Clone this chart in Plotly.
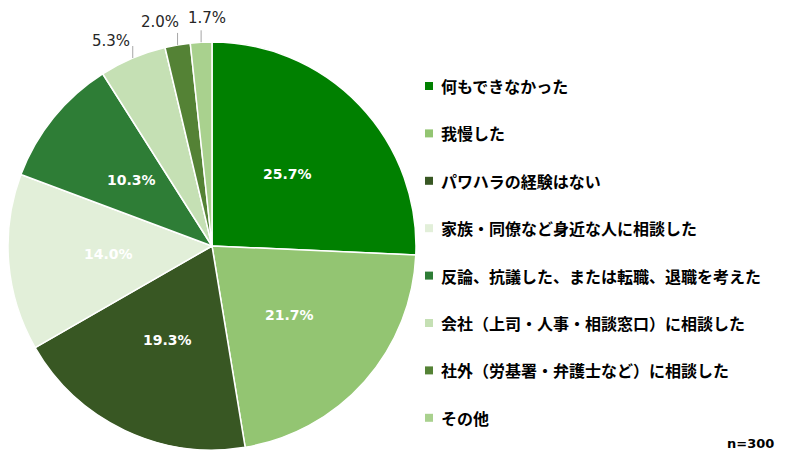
import math
import plotly.graph_objects as go

categories = [
    "何もできなかった",
    "我慢した",
    "パワハラの経験はない",
    "家族・同僚など身近な人に相談した",
    "反論、抗議した、または転職、退職を考えた",
    "会社（上司・人事・相談窓口）に相談した",
    "社外（労基署・弁護士など）に相談した",
    "その他",
]
values = [25.7, 21.7, 19.3, 14.0, 10.3, 5.3, 2.0, 1.7]
colors = ["#008000", "#93C572", "#385723", "#E2EFD9", "#2E7D36", "#C5E0B4", "#548235", "#A9D18E"]
outside = [False, False, False, False, False, True, True, True]
sample_note = "n=300"

W, H = 800, 465
cx, cy, R = 212, 246, 204

fig = go.Figure(go.Pie(
    labels=categories,
    values=values,
    sort=False,
    direction="clockwise",
    rotation=0,
    marker=dict(colors=colors, line=dict(color="white", width=1.5)),
    textinfo="none",
    hoverinfo="label+value",
    showlegend=False,
    domain=dict(x=[(cx - R) / W, (cx + R) / W], y=[1 - (cy + R) / H, 1 - (cy - R) / H]),
))

def px(x):
    return x / W

def py(y):
    return 1 - y / H

annotations = []
shapes = []
total = sum(values)
cum = 0.0
label_offsets = {5: (-22, -17), 6: (-18, -23), 7: (6, -24)}
for i, v in enumerate(values):
    mid = (cum + v / 2) / total * 2 * math.pi
    cum += v
    s, c = math.sin(mid), math.cos(mid)
    if not outside[i]:
        r = 0.51 * R
        annotations.append(dict(
            x=px(cx + r * s), y=py(cy - r * c), xref="paper", yref="paper",
            xanchor="center", yanchor="middle",
            text=f"{v:.1f}%", showarrow=False,
            font=dict(family="DejaVu Sans", size=14, color="white", weight="bold"),
        ))
    else:
        ex, ey = cx + R * s, cy - R * c
        top = ey - 12
        shapes.append(dict(type="line", xref="paper", yref="paper",
                           x0=px(ex), y0=py(ey), x1=px(ex), y1=py(top),
                           line=dict(color="#A6A6A6", width=1)))
        dx, dy = label_offsets[i]
        annotations.append(dict(
            x=px(ex + dx), y=py(ey + dy), xref="paper", yref="paper",
            xanchor="center", yanchor="middle",
            text=f"{v:.1f}%", showarrow=False,
            font=dict(family="DejaVu Sans", size=15, color="#262626"),
        ))

# legend (manual, to match spacing)
leg_x, leg_y0, leg_gap = 429, 86, 47.4
for i, (cat, col) in enumerate(zip(categories, colors)):
    y = leg_y0 + i * leg_gap
    shapes.append(dict(type="rect", xref="paper", yref="paper",
                       x0=px(leg_x - 4), x1=px(leg_x + 4), y0=py(y + 4), y1=py(y - 4),
                       fillcolor=col, line=dict(width=0)))
    annotations.append(dict(
        x=px(leg_x + 10), y=py(y), xref="paper", yref="paper",
        xanchor="left", yanchor="middle", text=cat, showarrow=False,
        font=dict(family="Noto Sans CJK JP", size=16, color="#000000", weight="bold"),
    ))

annotations.append(dict(
    x=px(776), y=py(443), xref="paper", yref="paper", xanchor="right", yanchor="middle",
    text=sample_note, showarrow=False,
    font=dict(family="DejaVu Sans", size=13, color="#000000", weight="bold"),
))

fig.update_layout(
    width=W, height=H,
    margin=dict(l=0, r=0, t=0, b=0),
    paper_bgcolor="white", plot_bgcolor="white",
    annotations=annotations, shapes=shapes,
)
fig.write_html("out.html")
